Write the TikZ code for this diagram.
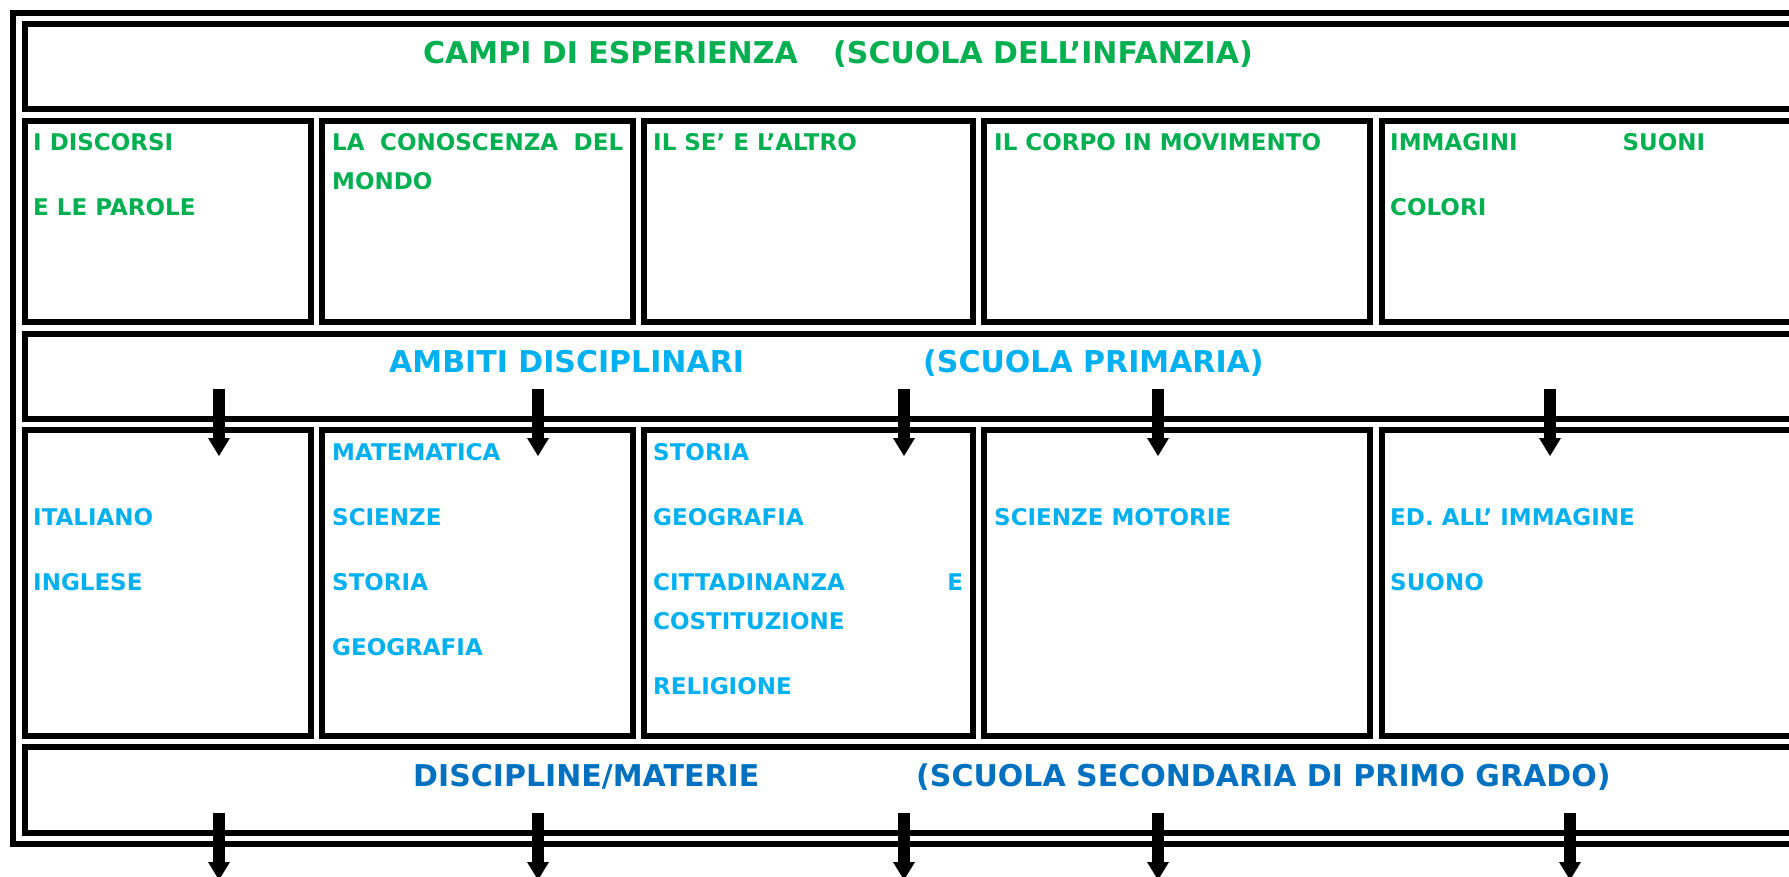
\documentclass[tikz,border=0pt]{standalone}
\usepackage{fontspec}
\setmainfont{DejaVu Sans}
\usetikzlibrary{arrows.meta}
\definecolor{campiverde}{HTML}{00B050}
\definecolor{ambitiblu}{HTML}{00B0F0}
\definecolor{discblu}{HTML}{0070C0}

\begin{document}
\begin{tikzpicture}[x=1pt,y=-1pt,
    cella/.style={line width=6pt},
    voce/.style={anchor=base west,inner sep=0pt,font=\bfseries\fontsize{23}{23}\selectfont},
    titolo/.style={anchor=base west,inner sep=0pt,font=\bfseries\fontsize{30}{30}\selectfont},
    freccia/.style={line width=12pt,-{Triangle[length=18pt,width=22pt,line width=0pt]}}]
            \useasboundingbox (0,0) rectangle (1789,877);
            \clip (0,0) rectangle (1789,877);
            \fill[white] (0,0) rectangle (1789,877);
            % cornice e righe intere
            \draw[cella] (13,13) rectangle (1900,844);
            \draw[cella] (25,24) rectangle (1900,109);
            \draw[cella] (25,334) rectangle (1900,419);
            \draw[cella] (25,747) rectangle (1900,833);
            % celle delle due righe a colonne
            \foreach \xa/\xb in {25/311, 322/633, 644/973, 984/1370, 1382/1900}
            {
            \draw[cella] (\xa,121) rectangle (\xb,322);
            \draw[cella] (\xa,430) rectangle (\xb,736);
            }
            % frecce
            \foreach \x in {219, 538, 904, 1158, 1550}
            \draw[freccia] (\x,389) -- (\x,456);
            \foreach \x in {219, 538, 904, 1158, 1570}
            \draw[freccia] (\x,813) -- (\x,880);
            % campi di esperienza
            \node[titolo,campiverde] (campi) at (423,64) {CAMPI DI ESPERIENZA};
            \node[titolo,campiverde] (infanzia) at (833,64) {(SCUOLA DELL’INFANZIA)};
            \node[voce,campiverde] (discorsi) at (33,151) {I DISCORSI};
            \node[voce,campiverde] (parole) at (33,216) {E LE PAROLE};
            \node[voce,campiverde] (conoscenza) at (332,151) {\makebox[291pt][s]{LA CONOSCENZA DEL}};
            \node[voce,campiverde] (mondo) at (332,190) {MONDO};
            \node[voce,campiverde] (se) at (653,151) {IL SE’ E L’ALTRO};
            \node[voce,campiverde] (corpo) at (994,151) {IL CORPO IN MOVIMENTO};
            \node[voce,campiverde] (immagini) at (1390,151) {\makebox[315pt][s]{IMMAGINI SUONI}};
            \node[voce,campiverde] (colori) at (1390,216) {COLORI};
            % ambiti disciplinari
            \node[titolo,ambitiblu] (ambiti) at (389,373) {AMBITI DISCIPLINARI};
            \node[titolo,ambitiblu] (primaria) at (923,373) {(SCUOLA PRIMARIA)};
            \node[voce,ambitiblu] (italiano) at (33,525) {ITALIANO};
            \node[voce,ambitiblu] (inglese) at (33,590) {INGLESE};
            \node[voce,ambitiblu] (matematica) at (332,460) {MATEMATICA};
            \node[voce,ambitiblu] (scienze) at (332,525) {SCIENZE};
            \node[voce,ambitiblu] (storiaa) at (332,590) {STORIA};
            \node[voce,ambitiblu] (geoa) at (332,655) {GEOGRAFIA};
            \node[voce,ambitiblu] (storiab) at (653,460) {STORIA};
            \node[voce,ambitiblu] (geob) at (653,525) {GEOGRAFIA};
            \node[voce,ambitiblu] (cittadinanza) at (653,590) {\makebox[310pt][s]{CITTADINANZA E}};
            \node[voce,ambitiblu] (costituzione) at (653,629) {COSTITUZIONE};
            \node[voce,ambitiblu] (religione) at (653,694) {RELIGIONE};
            \node[voce,ambitiblu] (motorie) at (994,525) {SCIENZE MOTORIE};
            \node[voce,ambitiblu] (edimm) at (1390,525) {ED. ALL’ IMMAGINE};
            \node[voce,ambitiblu] (suono) at (1390,590) {SUONO};
            % discipline
            \node[titolo,discblu] (discipline) at (413,786) {DISCIPLINE/MATERIE};
            \node[titolo,discblu] (secondaria) at (916,786) {(SCUOLA SECONDARIA DI PRIMO GRADO)};
\end{tikzpicture}
\end{document}
